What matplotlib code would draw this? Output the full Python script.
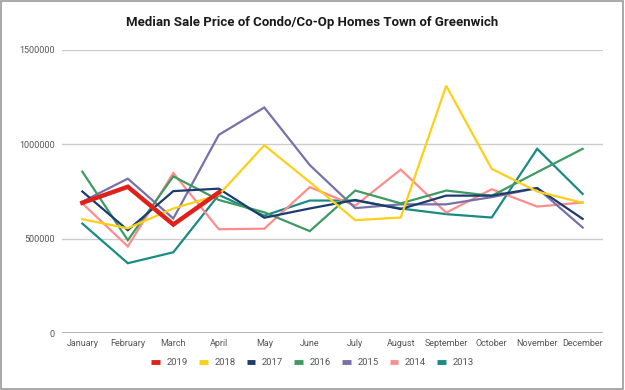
import matplotlib.pyplot as plt
from matplotlib.patches import Rectangle

plt.rcParams['font.family'] = ['Roboto', 'DejaVu Sans']

months = ["January", "February", "March", "April", "May", "June", "July",
          "August", "September", "October", "November", "December"]

y2019 = [690000, 775000, 575000, 745000]
y2018 = [603000, 555000, 660000, 732000, 995000, 800000, 598000, 612000,
         1310000, 870000, 750000, 690000]
y2017 = [750000, 545000, 752000, 765000, 611000, 660000, 705000, 657000,
         728000, 728000, 768000, 605000]
y2016 = [855000, 492000, 830000, 705000, 640000, 540000, 755000, 687000,
         755000, 727000, 852000, 976000]
y2015 = [696000, 818000, 607000, 1050000, 1195000, 890000, 662000, 682000,
         682000, 720000, 768000, 559000]
y2014 = [687000, 459000, 848000, 550000, 553000, 773000, 675000, 866000,
         638000, 762000, 670000, 692000]
y2013 = [580000, 370000, 428000, 732000, 622000, 702000, 702000, 660000,
         630000, 612000, 976000, 737000]

series = [("2019", y2019, "#e0211b", 3.2),
          ("2018", y2018, "#fdd017", 1.6),
          ("2017", y2017, "#1d3c6e", 1.6),
          ("2016", y2016, "#3d9b62", 1.6),
          ("2015", y2015, "#7671a8", 1.6),
          ("2014", y2014, "#ff8c8c", 1.6),
          ("2013", y2013, "#1b8a84", 1.6)]

fig = plt.figure(figsize=(6.25, 3.9), dpi=100)
ax = fig.add_axes([0.099, 0.146, 0.866, 0.726])

n = len(series)
for i, (name, vals, col, lw) in enumerate(series):
    ax.plot(range(len(vals)), vals, color=col, lw=lw, label=name,
            zorder=10 + n - i, solid_joinstyle='miter')

ax.set_xlim(-0.45, 11.45)
ax.set_ylim(0, 1500000)
ax.set_yticks([0, 500000, 1000000, 1500000])
ax.set_yticklabels(["0", "500000", "1000000", "1500000"])
ax.set_xticks(range(12))
ax.set_xticklabels(months)
ax.tick_params(axis='both', length=0, labelsize=6.5, labelcolor="#555555")
ax.tick_params(axis='x', pad=4)
ax.tick_params(axis='y', pad=5)
ax.grid(axis='y', color="#cccccc", lw=1)
ax.set_axisbelow(True)
for s in ax.spines.values():
    s.set_visible(False)
ax.axhline(0, color="#aaaaaa", lw=1.2, zorder=2)

fig.suptitle("Median Sale Price of Condo/Co-Op Homes Town of Greenwich",
             x=0.5, y=0.958, fontsize=9.5, fontweight='bold', color="#1a1a1a")

leg = fig.legend(loc='center', bbox_to_anchor=(0.5, 0.07), ncol=7,
                 frameon=False, fontsize=6.8, handlelength=0.9,
                 handletextpad=0.7, columnspacing=1.2, labelcolor="#555555")
for h in leg.get_lines():
    h.set_linewidth(3.5)
    h.set_solid_capstyle('butt')

fig.patches.append(Rectangle((0.002, 0.003), 0.995, 0.994, transform=fig.transFigure,
                             fill=False, edgecolor="#999999", lw=1.2))

fig.savefig("out.png", dpi=100)
